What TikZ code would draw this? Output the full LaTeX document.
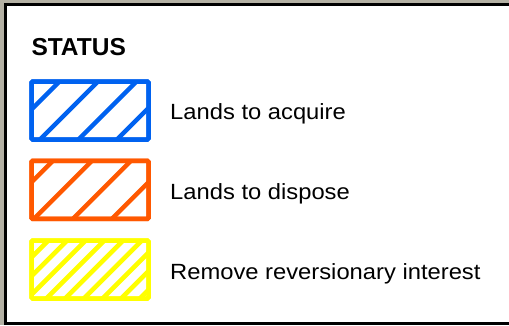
\documentclass[tikz,border=0pt]{standalone}
\usepackage{fontspec}
\setmainfont{Liberation Sans}
\newfontfamily\lblfont[FakeStretch=1.08]{Liberation Sans}
\definecolor{mapbg}{RGB}{180,177,164}
\definecolor{lgblue}{RGB}{0,98,240}
\definecolor{lgorange}{RGB}{255,88,0}
\definecolor{lgyellow}{RGB}{255,255,0}
\begin{document}
\begin{tikzpicture}[x=1pt,y=-1pt,
  swatch/.style={draw=#1, line width=4.5pt, rounded corners=1.2pt,
    minimum width=117pt, minimum height=58pt, inner sep=0pt, outer sep=0pt,
    anchor=north west},
  hatchline/.style 2 args={draw=#1, line width=#2},
  lbl/.style={anchor=base west, inner sep=0pt, font=\lblfont\fontsize{22}{25}\selectfont},
  titletext/.style={anchor=base west, inner sep=0pt, font=\bfseries\fontsize{24.5}{28}\selectfont},
  frameline/.style={draw=black, line width=3pt}]
\useasboundingbox (0,0) rectangle (509,325);
\clip (0,0) rectangle (509,325);
% map background and legend panel
\fill[mapbg] (0,0) rectangle (509,325);
\fill[white] (4,3) rectangle (515,330);
\draw[frameline] (515,4.5) -- (5.5,4.5) -- (5.5,323.5) -- (515,323.5);
% title
\node[titletext] (title) at (31.3,55.3) {STATUS};
% blue swatch
\node[swatch=lgblue] (acq) at (31.5,81.5) {};
\begin{scope}
  \clip (acq.south west) rectangle (acq.north east);
  \foreach \c in {141,179.5,218,256.5}
    \draw[hatchline={lgblue}{4.5pt}] ({\c-150},150) -- ({\c-70},70);
\end{scope}
\node[swatch=lgblue] at (31.5,81.5) {};
% orange swatch
\node[swatch=lgorange] (dis) at (31.5,160.8) {};
\begin{scope}
  \clip (dis.south west) rectangle (dis.north east);
  \foreach \c in {213.8,252.8,291.8,330.8}
    \draw[hatchline={lgorange}{4.5pt}] ({\c-230},230) -- ({\c-150},150);
\end{scope}
\node[swatch=lgorange] at (31.5,160.8) {};
% yellow swatch
\node[swatch=lgyellow] (rev) at (31.5,240.5) {};
\begin{scope}
  \clip (rev.south west) rectangle (rev.north east);
  \foreach \c in {270.1,288.8,307.5,326.2,344.9,363.6,382.3,401,419.7,438.4}
    \draw[hatchline={lgyellow}{4.6pt}] ({\c-310},310) -- ({\c-230},230);
\end{scope}
\node[swatch=lgyellow] at (31.5,240.5) {};
% labels
\node[lbl] (lacq) at (170,119.3) {Lands to acquire};
\node[lbl] (ldis) at (170,199.3) {Lands to dispose};
\node[lbl] (lrev) at (170,279.3) {Remove reversionary interest};
\end{tikzpicture}
\end{document}
